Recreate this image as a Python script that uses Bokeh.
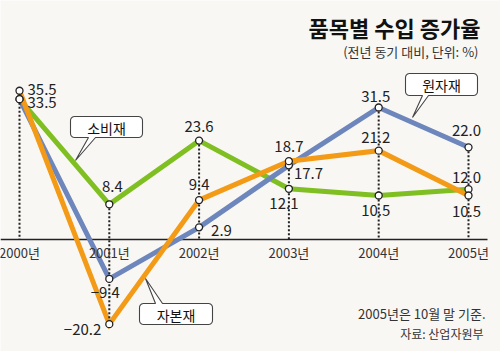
import numpy as np
from bokeh.plotting import figure
from bokeh.models import Range1d, ColumnDataSource
from bokeh.core.properties import value
from bokeh.embed import file_html
from bokeh.resources import INLINE

# ---------------- data ----------------
years = ["2000년", "2001년", "2002년", "2003년", "2004년", "2005년"]
consumer = [33.5, 8.4, 23.6, 12.1, 10.5, 12.0]    # 소비재
raw = [33.5, -9.4, 2.9, 17.7, 31.5, 22.0]         # 원자재
capital = [35.5, -20.2, 9.4, 18.7, 21.2, 10.5]    # 자본재

title = "품목별 수입 증가율"
subtitle = "(전년 동기 대비, 단위: %)"
note1 = "2005년은 10월 말 기준."
note2 = "자료: 산업자원부"

# ---------------- styles ----------------
FONT = "Noto Sans CJK KR"
BG = "#f9f7f4"
C_GREEN = "#7fbf22"
C_BLUE = "#6d86bc"
C_ORANGE = "#f39a16"
INK = "#222222"

# pixel anchors of the value scale
X0, DXP = 19.0, 89.8      # pixel x of first year, pixels per year
Y0, DYP = 239.0, 4.19     # pixel y of zero, pixels per unit
W, H = 500, 351

def dx(px):
    return (px - X0) / DXP

def dy(py):
    return (Y0 - py) / DYP

# label offsets (pixels, screen y down) and alignment; None = no label
lab_consumer = [None, (3, -18, "center"), (0, -14, "center"), (-5, 15, "center"),
                (-3, 15, "center"), (-2, -12, "center")]
lab_raw = [(8, 3.5, "left"), (-4, 14, "center"), (12, 3, "left"), (5, 8.5, "left"),
           (-3, -11, "center"), (-2, -17, "center")]
lab_capital = [(8, -1, "left"), (-8, 5, "right"), (0, -16, "center"), (0, -15, "center"),
               (-3, -13, "center"), (-2, 16, "center")]

p = figure(width=W, height=H, output_backend="svg", toolbar_location=None,
           x_range=Range1d(dx(0), dx(W)), y_range=Range1d(dy(H), dy(0)),
           x_axis_location=None, y_axis_location=None, min_border=0,
           background_fill_color=BG, border_fill_color=BG, outline_line_color=None)
p.grid.visible = False

idx = list(range(len(years)))

# axis line
p.segment(x0=[dx(0)], y0=[0], x1=[dx(487)], y1=[0], line_color=INK, line_width=1.6)

# series lines
for vals, col in [(consumer, C_GREEN), (raw, C_BLUE), (capital, C_ORANGE)]:
    p.line(idx, vals, line_color=col, line_width=5, line_join="miter")

# dotted drop lines
allv = np.array([consumer, raw, capital])
top = allv.max(axis=0)
bot = np.minimum(allv.min(axis=0), 0)
p.segment(x0=idx, y0=top, x1=idx, y1=bot, line_color=INK, line_width=2, line_dash="2 2")

# markers
for vals in [consumer, raw, capital]:
    p.scatter(idx, vals, size=7, marker="circle", fill_color="white",
              line_color=INK, line_width=1.3)

# value labels
def fmt(v):
    return f"{v:.1f}".replace("-", "\u2212")

rows = {"x": [], "y": [], "t": [], "a": []}
for vals, labs in [(consumer, lab_consumer), (raw, lab_raw), (capital, lab_capital)]:
    for i, (v, l) in enumerate(zip(vals, labs)):
        if l is None:
            continue
        ox, oy, al = l
        rows["x"].append(i + ox / DXP)
        rows["y"].append(v - oy / DYP)
        rows["t"].append(fmt(v))
        rows["a"].append(al)
src = ColumnDataSource(rows)
p.text(x="x", y="y", text="t", text_align="a", text_baseline="middle", source=src,
       text_font=value(FONT), text_font_size="15px", text_color=INK)

# year tick labels
p.text(x=idx, y=[dy(252)] * len(idx), text=years, text_align="center",
       text_baseline="middle", text_font=value(FONT), text_font_size="13px",
       text_color="#333333")

# callouts
def callout(left, top_, w, h, r, b1, b2, tip, side, label):
    pts = []
    def arc(cx, cy, a0, a1):
        for a in np.linspace(np.radians(a0), np.radians(a1), 6):
            pts.append((cx + r * np.cos(a), cy + r * np.sin(a)))
    R, B = left + w, top_ + h
    pts.append((left + r, top_))
    if side == "top":
        pts += [(b1, top_), tip, (b2, top_)]
    pts.append((R - r, top_))
    arc(R - r, top_ + r, -90, 0)
    arc(R - r, B - r, 0, 90)
    if side == "bottom":
        pts += [(b2, B), tip, (b1, B)]
    arc(left + r, B - r, 90, 180)
    arc(left + r, top_ + r, 180, 270)
    xs = [dx(a) for a, b in pts]
    ys = [dy(b) for a, b in pts]
    p.patch(xs, ys, fill_color="white", line_color="#444444", line_width=1.1)
    p.text(x=[dx(left + w / 2)], y=[dy(top_ + h / 2 + 0.5)], text=[label],
           text_align="center", text_baseline="middle", text_font=value(FONT),
           text_font_size="14px", text_color="#111111")

callout(70, 116, 72, 21, 4, 88, 95, (75, 160), "bottom", "소비재")
callout(405, 73, 72, 22, 4, 422, 428, (412, 117), "bottom", "원자재")
callout(139, 303, 73, 21, 4, 155, 162, (145, 278), "top", "자본재")

# title & notes
p.text(x=[dx(480)], y=[dy(26)], text=[title], text_align="right", text_baseline="middle",
       text_font=value(FONT), text_font_size="22px", text_font_style="bold", text_color="#111111")
p.text(x=[dx(478)], y=[dy(51)], text=[subtitle], text_align="right", text_baseline="middle",
       text_font=value(FONT), text_font_size="13px", text_color="#333333")
p.text(x=[dx(485)], y=[dy(313)], text=[note1], text_align="right", text_baseline="middle",
       text_font=value(FONT), text_font_size="13px", text_color="#333333")
p.text(x=[dx(483)], y=[dy(333)], text=[note2], text_align="right", text_baseline="middle",
       text_font=value(FONT), text_font_size="12px", text_color="#333333")

open("out.html", "w").write(file_html(p, INLINE))
